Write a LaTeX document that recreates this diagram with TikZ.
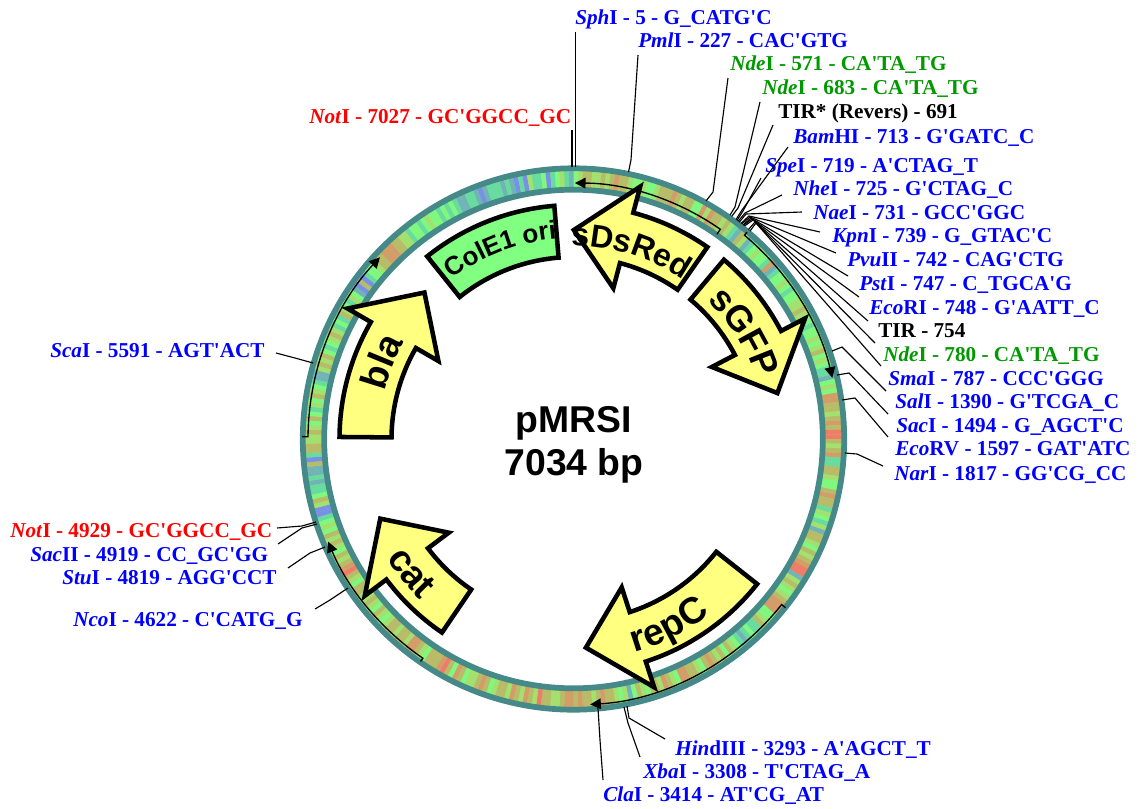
\documentclass[tikz,border=0pt]{standalone}
\usepackage{fontspec}
\setmainfont{Liberation Serif}[Ligatures=TeXOff]
\setsansfont{Liberation Sans}
\usetikzlibrary{arrows.meta,decorations.text}
\definecolor{cG}{HTML}{80F880}
\definecolor{cL}{HTML}{A4E070}
\definecolor{cO}{HTML}{B8BC68}
\definecolor{cR}{HTML}{D49C68}
\definecolor{cX}{HTML}{F07C68}
\definecolor{cT}{HTML}{68DCA0}
\definecolor{cB}{HTML}{70B4B8}
\definecolor{cV}{HTML}{7890E8}
\definecolor{ringteal}{HTML}{458A88}
\definecolor{featyellow}{HTML}{FFFF80}
\definecolor{featgreen}{HTML}{80FF80}
\definecolor{enzblue}{HTML}{0000FF}
\definecolor{enzred}{HTML}{FF0000}
\definecolor{enzgreen}{HTML}{009900}
\tikzset{
  enzlabel/.style={anchor=base west,inner sep=0pt,font=\fontsize{15.9}{18}\selectfont\bfseries},
  leaderline/.style={draw=black,line width=0.85pt},
  featbody/.style={draw=black,line width=3.4pt,line join=miter,miter limit=10},
  thinarrow/.style={draw=black,line width=1pt,-{Triangle[length=8pt,width=8pt]}},
  centertext/.style={inner sep=0pt,font=\sffamily\bfseries\fontsize{28}{30}\selectfont}
}
% enzyme label: id, colour, x, y-baseline, italic part, rest
\newcommand{\enz}[6]{\node[enzlabel,text=#2] (#1) at (#3,#4) {\textit{#5}#6};}
% leader: id, ring point, elbow, end
\newcommand{\leader}[4]{%
  \coordinate (#1-r) at (#2);\coordinate (#1-e) at (#3);\coordinate (#1-t) at (#4);
  \draw[leaderline] (#1-r) -- (#1-e) -- (#1-t);}
% arrow feature: tail angle, neck angle, tip angle
\newcommand{\featarrow}[3]{%
  \draw[featbody,fill=featyellow] (#1:234) arc[start angle=#1,end angle=#2,radius=234*0.75pt]
   -- (#2:261) -- (#3:209) -- (#2:156) -- (#2:182)
   arc[start angle=#2,end angle=#1,radius=182*0.75pt] -- cycle;}
% curved label: start angle, end angle, baseline radius, size, text
\newcommand{\curved}[5]{%
  \path[decorate,decoration={text along path,text align=center,
    text={|\sffamily\bfseries\fontsize{#4}{#4}\selectfont|#5}}]
    (#1:#3) arc[start angle=#1,end angle=#2,radius=#3*0.75pt];}
\begin{document}
\begin{tikzpicture}[x=.75pt,y=-.75pt]
\useasboundingbox (0,0) rectangle (1140,808);
\begin{scope}[shift={(573.5,439)},y=.75pt]
  \draw[draw=cL,line width=12.75pt] (0,0) circle[radius=260*0.75pt];
  \foreach \segc [count=\i from 0] in {
   G,L,O,O,L,L,O,L,O,R, O,O,L,G,G,L,G,G,L,O, O,O,R,O,L,O,O,G,G,R, L,R,O,O,L,O,L,T,B,O,
   L,B,T,G,L,G,G,T,R,B, T,G,G,L,G,T,G,G,L,L, O,L,G,G,T,G,G,L,G,L, O,G,L,G,T,T,B,G,L,G,
   R,R,O,O,L,O,R,O,X,X, O,L,O,R,T,T,O,O,L,G, G,O,R,O,O,T,L,G,T,L, B,O,O,L,G,O,L,O,R,X,
   X,B,L,O,L,G,L,O,R,R, R,G,G,L,O,T,T,G,T,B, T,G,L,O,G,O,L,O,R,O, G,L,O,O,R,R,G,L,O,R,
   L,O,O,G,L,O,G,B,L,G, L,O,O,R,O,L,O,O,R,O, R,R,O,L,L,O,O,X,L,O, R,L,O,R,L,O,O,L,G,O,
   R,O,L,L,G,O,R,G,O,X, R,O,O,O,G,L,O,R,R,L, O,O,L,O,O,L,G,L,O,G, L,O,L,L,O,O,G,L,O,X,
   R,O,L,O,G,L,O,L,O,G, L,G,T,V,V,L,O,G,T,T, B,T,B,B,O,V,T,O,O,L, L,O,L,G,O,G,T,L,G,O,
   L,G,T,B,B,L,O,L,O,G, T,G,L,O,L,T,G,T,O,L, G,T,L,G,B,V,O,V,T,G, G,L,O,O,R,R,R,O,O,L,
   L,T,G,G,T,G,L,G,G,T, G,T,G,T,B,B,T,T,B,V, B,T,T,T,B,T,B,V,T,V, L,T,T,G,V,T,G,L,T,B}{
    \pgfmathsetmacro\aa{90-\i}
    \pgfmathsetmacro\ab{89-\i}
    \fill[fill=c\segc] (\aa:251.5) arc[start angle=\aa,end angle=\ab,radius=251.5*0.75pt]
      -- (\ab:268.5) arc[start angle=\ab,end angle=\aa,radius=268.5*0.75pt] -- cycle;
  }
  \draw[draw=ringteal,line width=4.3pt] (0,0) circle[radius=270.7*0.75pt];
  \draw[draw=ringteal,line width=4.3pt] (0,0) circle[radius=249.3*0.75pt];
  % strand arrows
  \draw[thinarrow] (55:250) -- (55:256) arc[start angle=55,end angle=89.7,radius=256*0.75pt];
  \draw[thinarrow] (50:270) -- (50:266) arc[start angle=50,end angle=13.3,radius=266*0.75pt];
  \draw[thinarrow] (321.5:271) -- (321.5:266) arc[start angle=321.5,end angle=273.6,radius=266*0.75pt];
  \draw[thinarrow] (235.5:270) -- (235.5:266) arc[start angle=235.5,end angle=202.7,radius=266*0.75pt];
  \draw[thinarrow] (179.5:271.5) -- (179.5:265.5) arc[start angle=179.5,end angle=136.8,radius=265.5*0.75pt];
  % features
  \featarrow{50}{27.5}{12.7}
  \featarrow{55.1}{75.2}{89.9}
  \featarrow{179.5}{150}{135.5}
  \featarrow{235.8}{216.9}{202.4}
  \featarrow{321.7}{288}{273.4}
  \draw[featbody,fill=featgreen] (94.7:234) arc[start angle=94.7,end angle=128.7,radius=234*0.75pt]
    -- (128.7:182) arc[start angle=128.7,end angle=94.7,radius=182*0.75pt] -- cycle;
  % curved names
  \curved{113}{33}{193}{24}{sDsRed}
  \curved{72}{-8}{193}{27}{sGFP}
  \curved{131}{91}{201}{19.5}{ColE1 ori}
  \curved{198}{118}{195}{28}{bla}
  \curved{190}{249}{222}{28}{cat}
  \curved{267}{327}{222}{28}{repC}
\end{scope}
% centre title
\node[centertext] (title1) at (574,423) {pMRSI};
\node[centertext] (title2) at (574,466) {7034 bp};
% labels
\enz{sph}{enzblue}{575}{24}{Sph}{I - 5 - G\_CATG'C}
\enz{pml}{enzblue}{638}{47}{Pml}{I - 227 - CAC'GTG}
\enz{ndeA}{enzgreen}{730}{70}{Nde}{I - 571 - CA'TA\_TG}
\enz{ndeB}{enzgreen}{762}{94}{Nde}{I - 683 - CA'TA\_TG}
\node[enzlabel] (tirs) at (778,118) {TIR* (Revers) - 691};
\enz{bam}{enzblue}{793}{143}{Bam}{HI - 713 - G'GATC\_C}
\enz{spe}{enzblue}{765}{172}{Spe}{I - 719 - A'CTAG\_T}
\enz{nhe}{enzblue}{793}{195}{Nhe}{I - 725 - G'CTAG\_C}
\enz{nae}{enzblue}{813}{219}{Nae}{I - 731 - GCC'GGC}
\enz{kpn}{enzblue}{832}{242}{Kpn}{I - 739 - G\_GTAC'C}
\enz{pvu}{enzblue}{847}{266}{Pvu}{II - 742 - CAG'CTG}
\enz{pst}{enzblue}{859}{290}{Pst}{I - 747 - C\_TGCA'G}
\enz{eco}{enzblue}{869}{314}{Eco}{RI - 748 - G'AATT\_C}
\node[enzlabel] (tir) at (878,337) {TIR - 754};
\enz{ndeC}{enzgreen}{883}{361}{Nde}{I - 780 - CA'TA\_TG}
\enz{sma}{enzblue}{888}{385}{Sma}{I - 787 - CCC'GGG}
\enz{sal}{enzblue}{895}{408}{Sal}{I - 1390 - G'TCGA\_C}
\enz{sac}{enzblue}{896}{432}{Sac}{I - 1494 - G\_AGCT'C}
\enz{ecv}{enzblue}{895}{455}{Eco}{RV - 1597 - GAT'ATC}
\enz{nar}{enzblue}{894}{480}{Nar}{I - 1817 - GG'CG\_CC}
\enz{notA}{enzred}{309}{123}{Not}{I - 7027 - GC'GGCC\_GC}
\enz{sca}{enzblue}{50}{357}{Sca}{I - 5591 - AGT'ACT}
\enz{notB}{enzred}{10}{537}{Not}{I - 4929 - GC'GGCC\_GC}
\enz{sacB}{enzblue}{30}{561}{Sac}{II - 4919 - CC\_GC'GG}
\enz{stu}{enzblue}{62}{584}{Stu}{I - 4819 - AGG'CCT}
\enz{nco}{enzblue}{73}{626}{Nco}{I - 4622 - C'CATG\_G}
\enz{hin}{enzblue}{675}{755}{Hin}{dIII - 3293 - A'AGCT\_T}
\enz{xba}{enzblue}{643}{778}{Xba}{I - 3308 - T'CTAG\_A}
\enz{cla}{enzblue}{603}{801}{Cla}{I - 3414 - AT'CG\_AT}
% leaders
\leader{lsph}{575.4,167}{575.4,100}{575.4,32}
\leader{lnot}{572,167}{572,150}{572,130}
\leader{lpml}{628.5,172}{631,160}{638,55}
\leader{lndA}{706,201}{713,192}{728,78}
\leader{lndB}{730,215}{735,207}{760,102}
\leader{ltis}{731.7,216.4}{738,208}{773,125}
\leader{lbam}{736,219.5}{742,210}{788,147}
\leader{lspe}{737,220.5}{743,211}{761,178}
\leader{lnhe}{738.2,221.3}{745,213}{782,195}
\leader{lnae}{739.3,222.2}{746,214}{802,212}
\leader{lkpn}{741,223.4}{749,216}{820,232}
\leader{lpvu}{741.7,224}{750,217}{836,253}
\leader{lpst}{743,225}{751,218}{848,276}
\leader{leco}{743.5,225.2}{752,219}{859,297}
\leader{ltir}{744.5,226}{753,220}{868,321}
\leader{lndC}{748.5,229.5}{755,222}{875,343}
\leader{lsma}{750,231}{756,223}{881,366}
\leader{lsal}{832,351}{842,347}{886,391}
\leader{lsac}{837,375}{849,373}{888,414}
\leader{lecv}{842,400}{855,398}{888,437}
\leader{lnar}{845,453}{857,454}{883,466}
\leader{lsca}{313,363}{295,358}{276,353}
\leader{lntB}{316,522}{302,526}{277,528}
\leader{lsaB}{317,524}{302,528}{278,544}
\leader{lstu}{325,547}{310,553}{288,568}
\leader{lnco}{348,588}{330,600}{315,609}
\leader{lhin}{627,706}{629,718}{665,739}
\leader{lxba}{624,707}{628,723}{640,757}
\leader{lcla}{598,708}{600,740}{603,780}
\end{tikzpicture}
\end{document}
